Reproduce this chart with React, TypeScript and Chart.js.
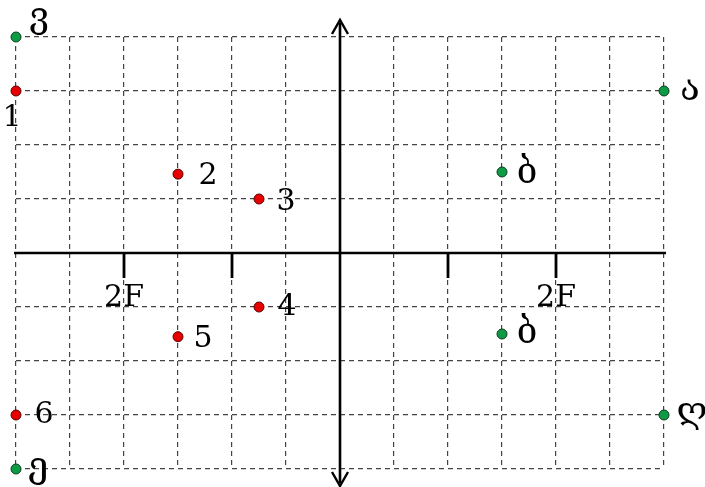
import { useEffect, useRef } from "react";
import { Chart, registerables } from "chart.js";

Chart.register(...registerables);

const redX = [-6, -3, -1.5, -1.5, -3, -6];
const redY = [3, 1.46, 1, -1, -1.55, -3];
const redLabels = ["1", "2", "3", "4", "5", "6"];

const greenX = [-6, 6, 3, 3, 6, -6];
const greenY = [4, 3, 1.5, -1.5, -3, -4];
const greenLabels = ["ვ", "ა", "ბ", "ბ", "ღ", "ე"];

const axisTickValues = [-4, -2, 2, 4];
const axisTickLabels = ["2F", "", "", "2F"];

// pixel offsets of labels relative to their points (style)
const redOffsets = [[-4, 27], [30, 2], [27, 3], [28, 0], [25, 3], [28, 0]];
const greenOffsets = [[23, -19], [26, 0], [25, 2], [25, 0], [28, -2], [22, -1]];

const overlay = {
  id: "overlay",
  afterDatasetsDraw(chart: any) {
    const ctx = chart.ctx;
    const xs = chart.scales.x;
    const ys = chart.scales.y;
    const x0 = xs.getPixelForValue(0);
    const y0 = ys.getPixelForValue(0);
    const left = xs.getPixelForValue(-6);
    const right = xs.getPixelForValue(6);
    const top = ys.getPixelForValue(4);
    const bottom = ys.getPixelForValue(-4);
    ctx.save();
    ctx.strokeStyle = "#000";
    ctx.fillStyle = "#000";
    // horizontal axis
    ctx.lineWidth = 2.5;
    ctx.beginPath();
    ctx.moveTo(left - 2, y0);
    ctx.lineTo(right + 2, y0);
    ctx.stroke();
    // ticks
    ctx.lineWidth = 2.8;
    axisTickValues.forEach((v) => {
      const px = xs.getPixelForValue(v);
      ctx.beginPath();
      ctx.moveTo(px, y0);
      ctx.lineTo(px, y0 + 25);
      ctx.stroke();
    });
    // vertical axis with arrows
    const tTip = top - 17;
    const bTip = bottom + 17;
    ctx.lineWidth = 2.6;
    ctx.beginPath();
    ctx.moveTo(x0, tTip + 3);
    ctx.lineTo(x0, bTip - 3);
    ctx.stroke();
    ctx.lineWidth = 2.4;
    ctx.lineJoin = "miter";
    ctx.beginPath();
    ctx.moveTo(x0 - 8, tTip + 14);
    ctx.lineTo(x0, tTip);
    ctx.lineTo(x0 + 8, tTip + 14);
    ctx.stroke();
    ctx.beginPath();
    ctx.moveTo(x0 - 8, bTip - 14);
    ctx.lineTo(x0, bTip);
    ctx.lineTo(x0 + 8, bTip - 14);
    ctx.stroke();
    // tick labels
    ctx.font = "30px 'DejaVu Serif'";
    ctx.textAlign = "center";
    ctx.textBaseline = "middle";
    axisTickValues.forEach((v, i) => {
      if (!axisTickLabels[i]) return;
      ctx.fillText(axisTickLabels[i], xs.getPixelForValue(v), y0 + 45);
    });
    // point labels
    const drawLabels = (X: number[], Y: number[], L: string[], O: number[][], font: string) => {
      ctx.font = font;
      X.forEach((x, i) => {
        const px = xs.getPixelForValue(x) + O[i][0];
        const py = ys.getPixelForValue(Y[i]) + O[i][1];
        ctx.fillText(L[i], px, py);
      });
    };
    drawLabels(redX, redY, redLabels, redOffsets, "30px 'DejaVu Serif'");
    drawLabels(greenX, greenY, greenLabels, greenOffsets, "36px 'DejaVu Serif', 'DejaVu Sans'");
    ctx.restore();
  },
};

export default function App() {
  const ref = useRef<HTMLCanvasElement>(null);
  useEffect(() => {
    if (!ref.current) return;
    const chart = new Chart(ref.current, {
      type: "scatter",
      data: {
        datasets: [
          {
            data: redX.map((x, i) => ({ x, y: redY[i] })),
            backgroundColor: "#e60000",
            borderColor: "#5a0000",
            borderWidth: 1,
            pointRadius: 5,
            clip: false as any,
          },
          {
            data: greenX.map((x, i) => ({ x, y: greenY[i] })),
            backgroundColor: "#0f9a45",
            borderColor: "#0a3d1c",
            borderWidth: 1,
            pointRadius: 5,
            clip: false as any,
          },
        ],
      },
      options: {
        animation: false,
        responsive: false,
        layout: { padding: { left: 16, right: 41, top: 37, bottom: 18 } },
        plugins: { legend: { display: false }, tooltip: { enabled: false } },
        scales: {
          x: {
            type: "linear",
            min: -6,
            max: 6,
            ticks: { stepSize: 1, display: false },
            grid: { color: "#444", lineWidth: 1.2, drawTicks: false },
            border: { display: false, dash: [5, 4] },
          },
          y: {
            type: "linear",
            min: -4,
            max: 4,
            ticks: { stepSize: 1, display: false },
            grid: { color: "#444", lineWidth: 1.2, drawTicks: false },
            border: { display: false, dash: [5, 4] },
          },
        },
      },
      plugins: [overlay],
    });
    return () => chart.destroy();
  }, []);
  return (
    <div style={{ position: "fixed", left: 0, top: 0, width: 705, height: 487, background: "#fff" }}>
      <canvas ref={ref} width={705} height={487} />
    </div>
  );
}
